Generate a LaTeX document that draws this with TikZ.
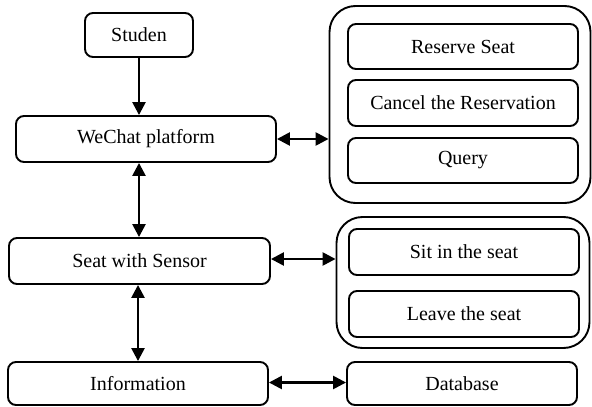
\documentclass[tikz,border=0pt]{standalone}
\usepackage{fontspec}
\setmainfont{Liberation Serif}
\newfontfamily\tms{Liberation Serif}
\usetikzlibrary{arrows.meta}
\begin{document}
\begin{tikzpicture}[x=1pt,y=-1pt,
  box/.style={draw,line width=1.9pt,rounded corners=8pt,inner sep=0pt,font=\tms\fontsize{20}{24}\selectfont},
  group/.style={draw,line width=1.9pt,rounded corners=26pt,inner sep=0pt},
  arr/.style={line width=2.5pt,-{Triangle[length=13pt,width=13pt]}},
  darr/.style={line width=2.5pt,{Triangle[length=13pt,width=13pt]}-{Triangle[length=13pt,width=13pt]}}]
\useasboundingbox (0,0) rectangle (592,407);
\node[box,minimum width=108pt,minimum height=44pt] (studen) at (139,35) {Studen};
\node[box,minimum width=260pt,minimum height=46pt] (wechat) at (146,139) {WeChat platform};
\node[box,minimum width=261pt,minimum height=46pt] (seat) at (139.5,261) {Seat with Sensor};
\node[box,minimum width=260pt,minimum height=43pt] (info) at (138,383.5) {Information};
\node[group,minimum width=261pt,minimum height=197pt] (g1) at (460,104.5) {};
\node[box,minimum width=230pt,minimum height=45pt] (reserve) at (463,46.5) {Reserve Seat};
\node[box,minimum width=230pt,minimum height=46pt] (cancel) at (463,103) {Cancel the Reservation};
\node[box,minimum width=230pt,minimum height=45pt] (query) at (463,160.5) {Query};
\node[group,minimum width=253pt,minimum height=131pt] (g2) at (463,282.5) {};
\node[box,minimum width=230pt,minimum height=46pt] (sit) at (464,252) {Sit in the seat};
\node[box,minimum width=230pt,minimum height=46pt] (leave) at (464,314) {Leave the seat};
\node[box,minimum width=230pt,minimum height=43pt] (db) at (462,383.5) {Database};
\draw[arr] (studen.south) -- (studen.south |- wechat.north);
\draw[darr] (wechat.south -| studen.south) -- (seat.north -| studen.south);
\draw[darr] (seat.south -| info.north) -- (info.north);
\draw[darr] (wechat.east) -- (wechat.east -| g1.west);
\draw[darr] ([yshift=2pt]seat.east) -- ([yshift=2pt]seat.east -| g2.west);
\draw[darr] ([yshift=1pt]info.east) -- ([yshift=1pt]info.east -| db.west);
\end{tikzpicture}
\end{document}
